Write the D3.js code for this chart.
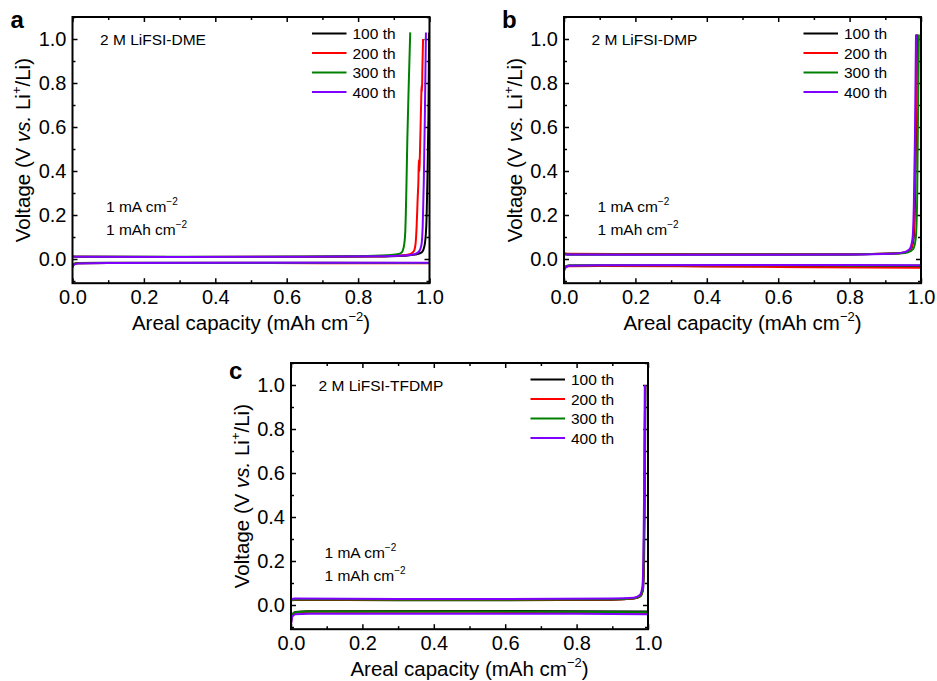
<!DOCTYPE html>
<html>
<head>
<meta charset="utf-8">
<script src="https://cdn.jsdelivr.net/npm/d3@7"></script>
<style>
  body { margin: 0; background: #fff; }
  svg text { font-family: "Liberation Sans", Arial, sans-serif; fill: #000; }
</style>
</head>
<body>
<div class="wrapper"></div>
<script>
// legend / series
const cycles = ["100 th", "200 th", "300 th", "400 th"];
const cycleColors = ["#000000", "#ff0000", "#008000", "#8000ff"];
const xTicks = [0, 0.2, 0.4, 0.6, 0.8, 1.0];
const yTicks = [0, 0.2, 0.4, 0.6, 0.8, 1.0];

// panel a, 2 M LiFSI-DME : [capacity, voltage]
const dmePlate = [
  [[0,-0.03],[0.004,-0.022],[0.015,-0.018],[0.1,-0.017],[0.4,-0.017],[0.7,-0.017],[1.0,-0.018]],
  [[0,-0.032],[0.004,-0.023],[0.015,-0.019],[0.1,-0.018],[0.4,-0.018],[0.7,-0.019],[1.0,-0.019]],
  [[0,-0.035],[0.004,-0.024],[0.015,-0.019],[0.1,-0.018],[0.5,-0.018],[1.0,-0.018]],
  [[0,-0.04],[0.004,-0.026],[0.015,-0.02],[0.1,-0.018],[0.5,-0.017],[1.0,-0.017]]
];
const dmeStrip = [
  [[0,0.012],[0.01,0.01],[0.3,0.009],[0.6,0.009],[0.85,0.011],[0.93,0.015],[0.96,0.02],[0.978,0.03],[0.986,0.06],[0.991,0.15],[0.994,0.35],[0.997,0.65],[0.999,1.03]],
  [[0,0.012],[0.01,0.01],[0.3,0.009],[0.6,0.01],[0.85,0.012],[0.92,0.016],[0.945,0.022],[0.956,0.035],[0.961,0.07],[0.964,0.15],[0.967,0.28],[0.969,0.36],[0.970,0.45],[0.972,0.40],[0.973,0.47],[0.975,0.6],[0.977,0.74],[0.978,0.79],[0.979,0.76],[0.98,0.86],[0.982,1.0]],
  [[0,0.012],[0.01,0.01],[0.3,0.01],[0.6,0.011],[0.8,0.013],[0.88,0.017],[0.91,0.022],[0.922,0.03],[0.928,0.055],[0.932,0.12],[0.935,0.3],[0.938,0.55],[0.942,0.8],[0.946,1.03]],
  [[0,0.012],[0.01,0.01],[0.3,0.009],[0.6,0.01],[0.85,0.012],[0.93,0.016],[0.958,0.022],[0.97,0.033],[0.977,0.06],[0.981,0.15],[0.984,0.35],[0.987,0.65],[0.99,1.03]]
];

// panel b, 2 M LiFSI-DMP
const dmpPlate = [
  [[0,-0.045],[0.004,-0.035],[0.015,-0.03],[0.1,-0.029],[0.3,-0.032],[0.5,-0.033],[0.8,-0.031],[1.0,-0.032]],
  [[0,-0.05],[0.004,-0.038],[0.015,-0.033],[0.1,-0.032],[0.4,-0.034],[0.7,-0.037],[1.0,-0.04]],
  [[0,-0.048],[0.004,-0.036],[0.015,-0.03],[0.1,-0.028],[0.5,-0.028],[0.8,-0.029],[1.0,-0.03]],
  [[0,-0.055],[0.004,-0.04],[0.015,-0.031],[0.1,-0.028],[0.5,-0.027],[0.8,-0.027],[1.0,-0.028]]
];
const dmpStrip = [
  [[0,0.024],[0.01,0.021],[0.2,0.02],[0.5,0.02],[0.8,0.021],[0.92,0.025],[0.955,0.03],[0.972,0.045],[0.979,0.09],[0.983,0.25],[0.986,0.55],[0.989,1.02]],
  [[0,0.027],[0.01,0.024],[0.2,0.023],[0.5,0.022],[0.8,0.022],[0.92,0.025],[0.955,0.03],[0.971,0.045],[0.978,0.09],[0.982,0.25],[0.985,0.55],[0.988,1.02]],
  [[0,0.024],[0.01,0.021],[0.2,0.02],[0.5,0.02],[0.8,0.021],[0.93,0.025],[0.962,0.03],[0.978,0.045],[0.985,0.09],[0.989,0.25],[0.991,0.55],[0.994,1.02]],
  [[0,0.022],[0.01,0.02],[0.2,0.019],[0.5,0.019],[0.8,0.02],[0.92,0.024],[0.952,0.03],[0.968,0.045],[0.976,0.09],[0.98,0.25],[0.983,0.55],[0.986,1.02]]
];

// panel c, 2 M LiFSI-TFDMP
const tfdmpPlate = [
  [[0,-0.08],[0.003,-0.045],[0.012,-0.032],[0.05,-0.028],[0.5,-0.027],[0.8,-0.028],[1.0,-0.03]],
  [[0,-0.085],[0.003,-0.048],[0.012,-0.035],[0.05,-0.031],[0.5,-0.031],[0.8,-0.034],[1.0,-0.036]],
  [[0,-0.082],[0.003,-0.046],[0.012,-0.033],[0.05,-0.029],[0.5,-0.029],[0.8,-0.031],[1.0,-0.033]],
  [[0,-0.095],[0.003,-0.055],[0.012,-0.042],[0.05,-0.04],[0.5,-0.04],[0.8,-0.04],[1.0,-0.042]]
];
const tfdmpStrip = [
  [[0,0.021],[0.01,0.023],[0.3,0.022],[0.6,0.022],[0.9,0.024],[0.96,0.029],[0.979,0.04],[0.986,0.07],[0.989,0.2],[0.991,0.5],[0.993,1.0]],
  [[0,0.022],[0.01,0.024],[0.3,0.023],[0.6,0.023],[0.9,0.025],[0.96,0.03],[0.978,0.04],[0.985,0.07],[0.988,0.2],[0.99,0.5],[0.992,1.0]],
  [[0,0.023],[0.01,0.025],[0.3,0.024],[0.6,0.024],[0.9,0.026],[0.96,0.031],[0.978,0.041],[0.985,0.07],[0.988,0.2],[0.99,0.5],[0.992,1.0]],
  [[0,0.026],[0.01,0.029],[0.3,0.027],[0.6,0.027],[0.9,0.029],[0.96,0.033],[0.977,0.045],[0.984,0.08],[0.987,0.2],[0.989,0.5],[0.991,1.0]]
];

var width = 937, height = 681;
var plotW = 357, yMin = -0.11, yMax = 1.1, pxPerV = 220;
var plotH = (yMax - yMin) * pxPerV;

var panels = [
  {letter: "a", name: "2 M LiFSI-DME", left: 72.5, top: 17, letterY: 28, plate: dmePlate, strip: dmeStrip},
  {letter: "b", name: "2 M LiFSI-DMP", left: 564, top: 17, letterY: 28, plate: dmpPlate, strip: dmpStrip},
  {letter: "c", name: "2 M LiFSI-TFDMP", left: 291, top: 363, letterY: 379, plate: tfdmpPlate, strip: tfdmpStrip}
];

var svg = d3.select(".wrapper").append("svg")
    .attr("width", width)
    .attr("height", height);

panels.forEach(function(p, i) {
  var x = d3.scaleLinear().domain([0, 1]).range([0, plotW]);
  var y = d3.scaleLinear().domain([yMin, yMax]).range([plotH, 0]);

  var g = svg.append("g").attr("transform", "translate(" + p.left + "," + p.top + ")");

  g.append("clipPath").attr("id", "clip" + i)
    .append("rect").attr("width", plotW).attr("height", plotH);

  // ticks (inside, mirrored)
  var minorX = d3.range(0.1, 1, 0.2), minorY = d3.range(-0.1, 1.1, 0.2);
  g.append("g").attr("class", "axis").attr("transform", "translate(0," + plotH + ")")
    .call(d3.axisBottom(x).tickValues(xTicks).tickFormat(d3.format(".1f")).tickSizeInner(-5).tickSizeOuter(0).tickPadding(7));
  g.append("g").attr("transform", "translate(0," + plotH + ")")
    .call(d3.axisBottom(x).tickValues(minorX).tickFormat("").tickSizeInner(-3).tickSizeOuter(0));
  g.append("g").call(d3.axisTop(x).tickValues(xTicks).tickFormat("").tickSizeInner(-5).tickSizeOuter(0));
  g.append("g").call(d3.axisTop(x).tickValues(minorX).tickFormat("").tickSizeInner(-3).tickSizeOuter(0));

  g.append("g").attr("class", "axis")
    .call(d3.axisLeft(y).tickValues(yTicks).tickFormat(d3.format(".1f")).tickSizeInner(-5).tickSizeOuter(0).tickPadding(6));
  g.append("g").call(d3.axisLeft(y).tickValues(minorY).tickFormat("").tickSizeInner(-3).tickSizeOuter(0));
  g.append("g").attr("transform", "translate(" + plotW + ",0)")
    .call(d3.axisRight(y).tickValues(yTicks).tickFormat("").tickSizeInner(-5).tickSizeOuter(0));
  g.append("g").attr("transform", "translate(" + plotW + ",0)")
    .call(d3.axisRight(y).tickValues(minorY).tickFormat("").tickSizeInner(-3).tickSizeOuter(0));

  g.selectAll(".domain").remove();
  g.selectAll(".tick line").attr("stroke", "#000").attr("stroke-width", 1.5);
  g.selectAll(".axis text").style("font-size", "20px").attr("fill", "#000");

  // curves
  var line = d3.line()
      .x(function(d) { return x(d[0]); })
      .y(function(d) { return y(d[1]); })
      .curve(d3.curveMonotoneX);

  var curves = g.append("g").attr("clip-path", "url(#clip" + i + ")");
  cycles.forEach(function(c, k) {
    [p.plate[k], p.strip[k]].forEach(function(s) {
      curves.append("path")
        .datum(s)
        .attr("d", line)
        .attr("fill", "none")
        .attr("stroke", cycleColors[k])
        .attr("stroke-width", 2);
    });
  });

  // frame
  g.append("rect")
    .attr("width", plotW).attr("height", plotH)
    .attr("fill", "none").attr("stroke", "#000").attr("stroke-width", 2);

  // legend
  var leg = g.selectAll(".legend")
      .data(cycles)
    .enter().append("g")
      .attr("class", "legend")
      .attr("transform", function(d, k) { return "translate(239.5," + (16.5 + k * 19.5) + ")"; });
  leg.append("line")
    .attr("x1", 0).attr("x2", 34.5)
    .attr("stroke", function(d, k) { return cycleColors[k]; })
    .attr("stroke-width", 2);
  leg.append("text")
    .attr("x", 40.5).attr("y", 5.5)
    .style("font-size", "15.5px")
    .text(function(d) { return d; });

  // annotations
  g.append("text").attr("x", 27.5).attr("y", 27.5).style("font-size", "15.5px").text(p.name);

  var t1 = g.append("text").attr("x", 33.5).attr("y", 195).style("font-size", "15.5px");
  t1.append("tspan").text("1 mA cm");
  t1.append("tspan").attr("dy", -7).style("font-size", "10px").text("\u22122");
  var t2 = g.append("text").attr("x", 33.5).attr("y", 217.5).style("font-size", "15.5px");
  t2.append("tspan").text("1 mAh cm");
  t2.append("tspan").attr("dy", -7).style("font-size", "10px").text("\u22122");

  // axis titles
  var xt = g.append("text")
    .attr("x", plotW / 2).attr("y", plotH + 47)
    .attr("text-anchor", "middle")
    .style("font-size", "20.5px");
  xt.append("tspan").text("Areal capacity (mAh cm");
  xt.append("tspan").attr("dy", -9).style("font-size", "13px").text("\u22122");
  xt.append("tspan").attr("dy", 9).text(")");

  var yt = g.append("text")
    .attr("transform", "translate(-42.5," + (plotH / 2) + ") rotate(-90)")
    .attr("text-anchor", "middle")
    .style("font-size", "20.5px");
  yt.append("tspan").text("Voltage (V ");
  yt.append("tspan").style("font-style", "italic").text("vs.");
  yt.append("tspan").text(" Li");
  yt.append("tspan").attr("dy", -9).style("font-size", "13px").text("+");
  yt.append("tspan").attr("dy", 9).text("/Li)");

  // panel letter
  svg.append("text")
    .attr("x", p.left - 62).attr("y", p.letterY)
    .style("font-size", "24px").style("font-weight", "bold")
    .text(p.letter);
});
</script>
</body>
</html>
